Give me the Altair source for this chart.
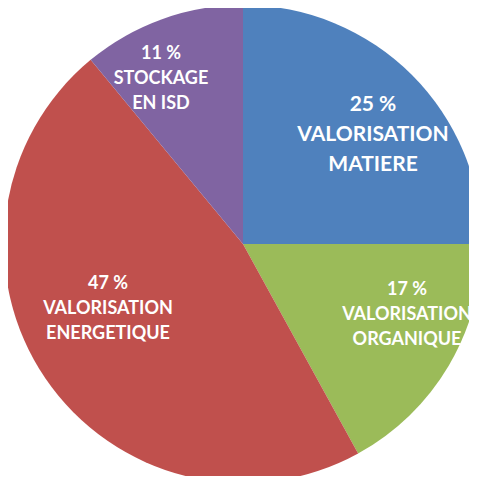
import altair as alt
import pandas as pd

categories = ["VALORISATION MATIERE", "VALORISATION ORGANIQUE", "VALORISATION ENERGETIQUE", "STOCKAGE EN ISD"]
values = [25, 17, 47, 11]
labels = ["25 %\nVALORISATION\nMATIERE", "17 %\nVALORISATION\nORGANIQUE",
          "47 %\nVALORISATION\nENERGETIQUE", "11 %\nSTOCKAGE\nEN ISD"]
colors = ["#4F81BD", "#9BBB59", "#C0504D", "#8064A2"]

# label first-line centres (layout, pixels in plot area)
label_x = [365, 399, 100, 153]
label_y = [97, 282, 276, 46]
big_label = [True, False, False, False]

df = pd.DataFrame({
    "cat": categories,
    "val": values,
    "order": list(range(len(values))),
    "label": labels,
    "lx": label_x,
    "ly": label_y,
    "big": big_label,
})

CX, CY, R = 235, 236, 239

pie = alt.Chart(df).mark_arc(radius=R, stroke=None).encode(
    theta=alt.Theta("val:Q", stack=True),
    order=alt.Order("order:Q"),
    color=alt.Color("cat:N", scale=alt.Scale(domain=categories, range=colors), legend=None),
    x=alt.value(CX),
    y=alt.value(CY),
)

def text_layer(big):
    return alt.Chart(df).transform_filter(
        alt.datum.big if big else ~alt.datum.big
    ).mark_text(
        color="white", font="Lato", fontWeight="bold",
        fontSize=21 if big else 18, lineHeight=30 if big else 25,
        lineBreak="\n", align="center", baseline="middle",
    ).encode(
        x=alt.X("lx:Q", scale=None),
        y=alt.Y("ly:Q", scale=None),
        text="label:N",
    )

chart = alt.layer(pie, text_layer(True), text_layer(False)).properties(
    width=461, height=468, padding=0, autosize=alt.AutoSizeParams(type="none")
).configure_view(stroke=None)

chart.save("out.html", embed_options={"renderer": "svg", "actions": False})
